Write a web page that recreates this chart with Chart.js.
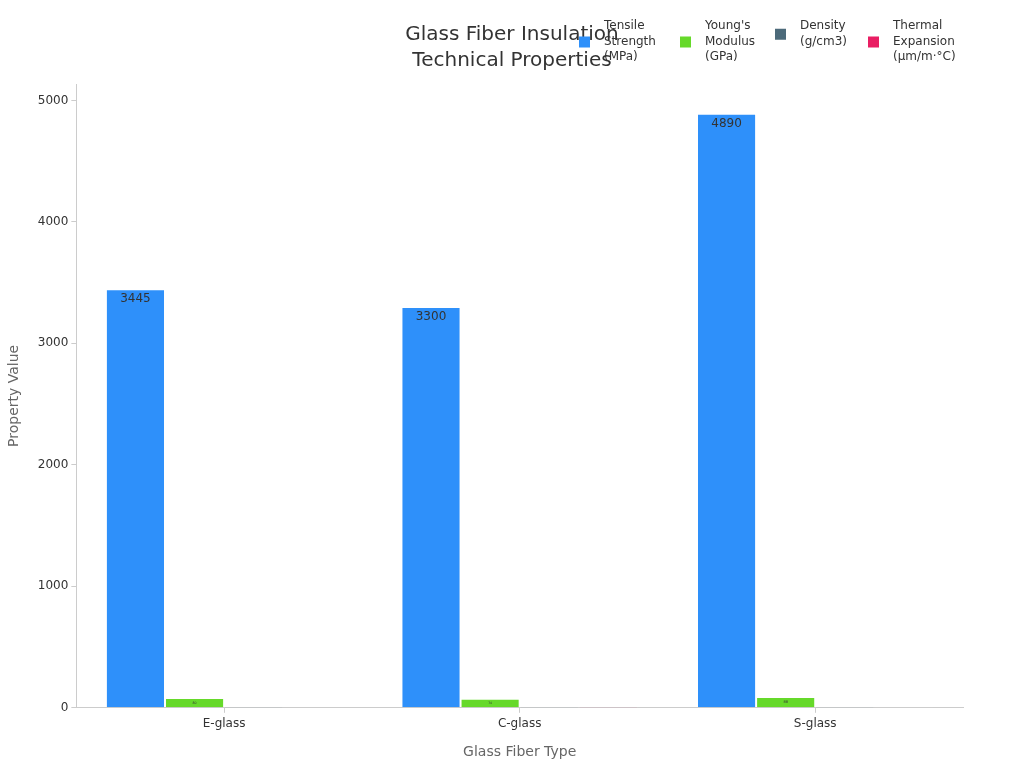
<!DOCTYPE html>
<html>
<head>
<meta charset="utf-8">
<script src="https://cdn.jsdelivr.net/npm/chart.js"></script>
<style>
  html, body { margin: 0; padding: 0; background: #fff; }
  #wrap { width: 1024px; height: 768px; position: relative; }
</style>
</head>
<body>
<div id="wrap"><canvas id="chart"></canvas></div>
<script>
// ======= DATA =======
const fiberTypes = ['E-glass', 'C-glass', 'S-glass'];
const tensileStrength = [3445, 3300, 4890];
const youngsModulus = [80, 74, 88];
const density = [2.58, 2.52, 2.49];
const thermalExpansion = [5.4, 7.2, 2.9];
const seriesLabels = [
  ['Tensile', 'Strength', '(MPa)'],
  ["Young's", 'Modulus', '(GPa)'],
  ['Density', '(g/cm3)'],
  ['Thermal', 'Expansion', '(\u00b5m/m\u00b7\u00b0C)']
];
const seriesColors = ['#2E90FA', '#66D92A', '#4C6A7A', '#E91E63'];
const yTicks = [0, 1000, 2000, 3000, 4000, 5000];
const titleLines = ['Glass Fiber Insulation', 'Technical Properties'];

const FONT = "'DejaVu Sans', sans-serif";

// ======= VALUE LABELS (inside top of bar, clipped to bar) =======
const barLabels = {
  id: 'barLabels',
  afterDatasetsDraw(chart) {
    const ctx = chart.ctx;
    chart.data.datasets.forEach((ds, i) => {
      const meta = chart.getDatasetMeta(i);
      meta.data.forEach((bar, j) => {
        const top = bar.y, bottom = bar.base;
        const h = bottom - top;
        if (h < 1) return;
        const left = bar.x - bar.width / 2;
        // shrink the label on short bars
        const size = h >= 20 ? 12 : Math.max(1, h * 0.35);
        ctx.save();
        ctx.beginPath();
        ctx.rect(left, top, bar.width, h);
        ctx.clip();
        ctx.fillStyle = '#333';
        ctx.font = size + 'px ' + FONT;
        ctx.textAlign = 'center';
        ctx.textBaseline = 'middle';
        ctx.fillText(String(ds.data[j]), bar.x, h >= 20 ? top + 10 : top + h / 2);
        ctx.restore();
      });
    });
  }
};

// ======= TITLE + LEGEND (legend overlaps the title, top right) =======
const headerPlugin = {
  id: 'headerPlugin',
  afterDraw(chart) {
    const ctx = chart.ctx;
    ctx.save();
    ctx.fillStyle = '#333';
    ctx.font = '20px ' + FONT;
    ctx.textAlign = 'center';
    ctx.textBaseline = 'middle';
    titleLines.forEach((t, k) => ctx.fillText(t, chart.width / 2, 35 + k * 26));

    const xs = [579, 680, 775, 868];
    const lineH = 15.5;
    ctx.font = '12px ' + FONT;
    ctx.textAlign = 'left';
    seriesLabels.forEach((lines, i) => {
      const firstY = 26;
      const midY = firstY + (lines.length - 1) * lineH / 2;
      ctx.fillStyle = seriesColors[i];
      ctx.fillRect(xs[i], midY - 5, 11, 11);
      ctx.fillStyle = '#333';
      lines.forEach((t, k) => ctx.fillText(t, xs[i] + 25, firstY + k * lineH));
    });
    ctx.restore();
  }
};

const datasets = [tensileStrength, youngsModulus, density, thermalExpansion].map((d, i) => ({
  label: seriesLabels[i].join(' '),
  data: d,
  backgroundColor: seriesColors[i],
  borderColor: 'rgba(255,255,255,0.6)',
  borderWidth: 1,
  categoryPercentage: 0.8,
  barPercentage: 1.0
}));

new Chart(document.getElementById('chart'), {
  type: 'bar',
  data: { labels: fiberTypes, datasets: datasets },
  plugins: [barLabels, headerPlugin],
  options: {
    responsive: true,
    maintainAspectRatio: false,
    animation: false,
    layout: { padding: { top: 84, left: 2, right: 61, bottom: 3 } },
    plugins: {
      legend: { display: false },
      tooltip: { enabled: false },
      title: { display: false }
    },
    scales: {
      x: {
        grid: { display: true, drawOnChartArea: false, offset: false, tickLength: 5, color: '#ccc' },
        border: { color: '#ccc' },
        ticks: { color: '#333', font: { family: FONT, size: 12 }, padding: 4 },
        title: { display: true, text: 'Glass Fiber Type', color: '#666', font: { family: FONT, size: 14 }, padding: { top: 9 } }
      },
      y: {
        min: 0,
        max: 5135,
        afterBuildTicks(axis) { axis.ticks = yTicks.map(v => ({ value: v })); },
        grid: { display: true, drawOnChartArea: false, tickLength: 5, color: '#ccc' },
        border: { color: '#ccc' },
        ticks: { color: '#333', font: { family: FONT, size: 12 }, padding: 3, callback: v => String(v) },
        title: { display: true, text: 'Property Value', color: '#666', font: { family: FONT, size: 14 }, padding: { bottom: 12 } }
      }
    }
  }
});
</script>
</body>
</html>
